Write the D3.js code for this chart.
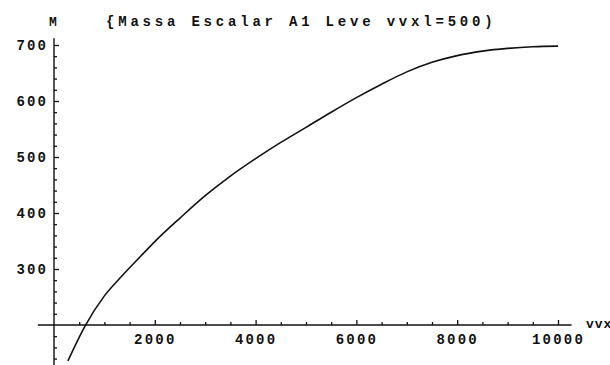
<!DOCTYPE html>
<html>
<head>
<meta charset="utf-8">
<script src="https://cdn.jsdelivr.net/npm/d3@7"></script>
<style>
  body { margin: 0; background: #fff; }
  svg text { font-family: "Liberation Mono", "DejaVu Sans Mono", monospace; fill: #111; }
</style>
</head>
<body>
<div class="chart"></div>
<script>
// curve values
const vvx = [277, 615, 1000, 1300, 1700, 2000, 2500, 3000, 3500, 4000, 4500, 5000,
             5500, 6000, 6500, 7000, 7500, 8000, 8500, 9000, 9500, 10000];
const massa = [136, 198, 252, 283, 321, 349, 391, 431, 466, 497, 526, 553,
               580, 606, 630, 652, 669, 681, 689, 694, 697, 698];

const xMajor = [2000, 4000, 6000, 8000, 10000];
const xMinor = [500, 1000, 1500, 2500, 3000, 3500, 4500, 5000, 5500, 6500, 7000, 7500, 8500, 9000, 9500];
const yMajor = [300, 400, 500, 600, 700];
const yMinor = [140, 160, 180, 220, 240, 260, 280, 320, 340, 360, 380, 420, 440, 460, 480,
                520, 540, 560, 580, 620, 640, 660, 680];

const title = "{Massa Escalar A1 Leve vvxl=500)";
const yName = "M";
const xName = "vvx";

const width = 610, height = 365;

const svg = d3.select(".chart").append("svg")
    .attr("width", width)
    .attr("height", height);

// scales: x axis crosses at M=200, y axis at vvx=0
const xScale = d3.scaleLinear().domain([0, 10000]).range([54, 558]);
const yScale = d3.scaleLinear().domain([300, 700]).range([269, 45]);

// axis lines
svg.append("line")
    .attr("x1", xScale(-320)).attr("x2", xScale(10270))
    .attr("y1", yScale(200)).attr("y2", yScale(200))
    .attr("stroke", "#111").attr("stroke-width", 1.4);

svg.append("line")
    .attr("x1", xScale(0)).attr("x2", xScale(0))
    .attr("y1", yScale(712)).attr("y2", height)
    .attr("stroke", "#111").attr("stroke-width", 1.4);

// x axis ticks
const xAxisMajor = d3.axisBottom(xScale)
    .tickValues(xMajor).tickSizeInner(-5).tickSizeOuter(0).tickPadding(9)
    .tickFormat(d3.format("d"));
const xAxisMinor = d3.axisBottom(xScale)
    .tickValues(xMinor).tickSizeInner(-3).tickSizeOuter(0).tickFormat("");

svg.append("g").attr("transform", `translate(0,${yScale(200)})`).call(xAxisMajor);
svg.append("g").attr("transform", `translate(0,${yScale(200)})`).call(xAxisMinor);

// y axis ticks
const yAxisMajor = d3.axisLeft(yScale)
    .tickValues(yMajor).tickSizeInner(-5).tickSizeOuter(0).tickPadding(8)
    .tickFormat(d3.format("d"));
const yAxisMinor = d3.axisLeft(yScale)
    .tickValues(yMinor).tickSizeInner(-3).tickSizeOuter(0).tickFormat("");

const gy = svg.append("g").attr("transform", `translate(${xScale(0)},0)`).call(yAxisMajor);
svg.append("g").attr("transform", `translate(${xScale(0)},0)`).call(yAxisMinor);

svg.selectAll(".domain").remove();
svg.selectAll(".tick line").attr("stroke", "#111").attr("stroke-width", 1.3);
svg.selectAll(".tick text")
    .attr("font-size", 14)
    .attr("font-weight", "bold")
    .style("letter-spacing", "2.2px")
    .style("font-family", "'Liberation Mono', 'DejaVu Sans Mono', monospace");
gy.selectAll(".tick text").attr("dx", "2.2px");

// curve
const line = d3.line()
    .x(d => xScale(d[0]))
    .y(d => yScale(d[1]))
    .curve(d3.curveMonotoneX);

svg.append("path")
    .datum(d3.zip(vvx, massa))
    .attr("fill", "none")
    .attr("stroke", "#111")
    .attr("stroke-width", 1.6)
    .attr("d", line);

// labels
svg.append("text")
    .attr("x", 53).attr("y", 26)
    .attr("text-anchor", "middle")
    .attr("font-size", 13).attr("font-weight", "bold")
    .text(yName);

svg.append("text")
    .attr("x", 106).attr("y", 26)
    .attr("font-size", 14).attr("font-weight", "bold")
    .style("letter-spacing", "3.8px")
    .text(title);

svg.append("text")
    .attr("x", 586).attr("y", 328)
    .attr("font-size", 13).attr("font-weight", "bold")
    .style("letter-spacing", "1px")
    .text(xName);
</script>
</body>
</html>
